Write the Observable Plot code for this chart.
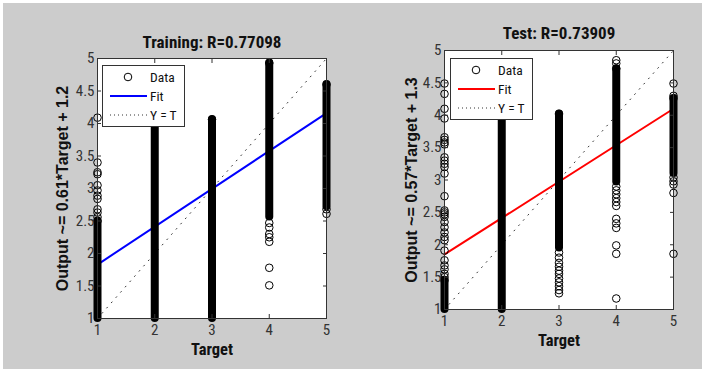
<!DOCTYPE html>
<html><head><meta charset="utf-8">
<script src="https://cdn.jsdelivr.net/npm/d3@7"></script>
<script src="https://cdn.jsdelivr.net/npm/@observablehq/plot@0.6"></script>
<style>
body{margin:0;background:#fff;}
#wrap{position:relative;width:702px;height:374px;overflow:hidden;}
#bg{position:absolute;left:3px;top:3px;width:699px;height:366px;background:#cccccc;}
.panel{position:absolute;top:0;width:351px;height:374px;}
.legend{position:absolute;}
</style></head><body><div id="wrap"><div id="bg"></div></div>
<script>
// ---- shared axes ----
const targets = [1, 2, 3, 4, 5];
const xDomain = [1, 5];
const yDomain = [1, 5];
const xTicks = [1, 2, 3, 4, 5];
const xTickLabels = ["1", "2", "3", "4", "5"];
const yTicks = [1, 1.5, 2, 2.5, 3, 3.5, 4, 4.5, 5];
const yTickLabels = ["1", "1.5", "2", "2.5", "3", "3.5", "4", "4.5", "5"];
const identX = [1, 5];
const identY = [1, 5];
const fitX = [1, 5];
const legendLabels = ["Data", "Fit", "Y = T"];
const xLabel = "Target";

// ---- Training panel ----
const trainTitle = "Training: R=0.77098";
const trainYLabel = "Output ~= 0.61*Target + 1.2";
const trainDenseLow = [1.00, 1.00, 1.00, 2.56, 2.72];
const trainDenseHigh = [2.50, 4.30, 4.06, 4.93, 4.60];
const trainOutT = [1, 1, 1, 1, 1, 1, 1, 1, 1, 1, 1, 4, 4, 4, 4, 4, 4, 4, 5, 5];
const trainOutV = [4.09, 3.40, 3.25, 3.22, 3.05, 2.97, 2.89, 2.84, 2.68, 2.63, 2.56,
                   2.47, 2.40, 2.30, 2.25, 2.18, 1.78, 1.51, 2.68, 2.61];
const trainFitY = [1.83, 4.16];

// ---- Test panel ----
const testTitle = "Test: R=0.73909";
const testYLabel = "Output ~= 0.57*Target + 1.3";
const testDenseLow = [1.00, 1.00, 1.95, 2.97, 3.10];
const testDenseHigh = [1.45, 4.20, 4.02, 4.72, 4.26];
const testOutT = [
  1,1,1,1,1,1,1,1,1,1,1,1,1,1,1,1,1,1,1,1,1,1,1,1,1,1,1,1,1,
  3,3,3,3,3,3,3,3,3,3,3,
  4,4,4,4,4,4,4,4,4,4,4,4,4,4,
  5,5,5,5,5,5,5];
const testOutV = [
  1.50,1.55,1.62,1.68,1.76,1.91,2.07,2.12,2.19,2.27,2.35,2.43,2.47,2.50,2.53,2.75,3.10,3.20,3.25,3.30,3.35,3.55,3.58,3.62,3.66,3.95,4.10,4.33,4.49,
  1.25,1.30,1.36,1.42,1.48,1.55,1.60,1.66,1.72,1.80,1.88,
  4.85,4.80,2.90,2.84,2.78,2.72,2.66,2.60,2.40,2.33,2.26,1.99,1.86,1.17,
  4.49,4.30,3.04,2.98,2.93,2.80,1.86];
const testFitY = [1.85, 4.10];

const NARROW = '"Roboto Condensed","Liberation Sans",Arial,sans-serif';
const WIDE = '"Liberation Sans",Arial,sans-serif';
const R = 3.8;

function panel(cfg) {
  const dense = targets.map((t, i) => ({t, lo: cfg.lo[i], hi: cfg.hi[i]}));
  const pts = cfg.outT.map((t, i) => ({t, v: cfg.outV[i]}));
  const fit = fitX.map((x, i) => ({x, y: cfg.fitY[i]}));
  const ident = identX.map((x, i) => ({x, y: identY[i]}));
  const fmtX = d => xTickLabels[xTicks.indexOf(d)];
  const fmtY = d => yTickLabels[yTicks.indexOf(d)];
  return Plot.plot({
    width: 351, height: 374,
    marginLeft: cfg.m[0], marginRight: cfg.m[1], marginTop: cfg.m[2], marginBottom: cfg.m[3],
    x: {domain: xDomain, axis: null},
    y: {domain: yDomain, axis: null},
    style: {background: "transparent", overflow: "visible", fontFamily: NARROW, color: "#222"},
    marks: [
      Plot.frame({fill: "#fff", stroke: null}),
      Plot.line(ident, {x: "x", y: "y", stroke: "#333", strokeWidth: 1, strokeDasharray: "1,6"}),
      Plot.line(fit, {x: "x", y: "y", stroke: cfg.color, strokeWidth: 2}),
      Plot.ruleX(dense, {x: "t", y1: "lo", y2: "hi", stroke: "#000", strokeWidth: 8, strokeLinecap: "round"}),
      Plot.dot(dense, {x: "t", y: "hi", r: R, stroke: "#000", fill: "none", strokeWidth: 1}),
      Plot.dot(pts, {x: "t", y: "v", r: R, stroke: "#000", fill: "none", strokeWidth: 1}),
      Plot.frame({stroke: "#333"}),
      Plot.axisX(xTicks, {anchor: "bottom", tickSize: -4, fill: "none", label: null, stroke: "#333"}),
      Plot.axisX(xTicks, {anchor: "top", tickSize: -4, fill: "none", label: null, stroke: "#333"}),
      Plot.axisY(yTicks, {anchor: "left", tickSize: -4, fill: "none", label: null, stroke: "#333"}),
      Plot.axisY(yTicks, {anchor: "right", tickSize: -4, fill: "none", label: null, stroke: "#333"}),
      Plot.axisX(xTicks, {anchor: "bottom", tickSize: 0, tickPadding: 6, fontSize: 15, label: null, tickFormat: fmtX, fill: "#333"}),
      Plot.axisY(yTicks, {anchor: "left", tickSize: 0, tickPadding: 3, fontSize: 15, label: null, tickFormat: fmtY, fill: "#333"}),
      Plot.text([cfg.title], {frameAnchor: "top", lineAnchor: "middle", textAnchor: "middle", dy: cfg.titleDy, fontSize: 17, fontWeight: "bold", fill: "#111"}),
      Plot.text([xLabel], {frameAnchor: "bottom", lineAnchor: "middle", textAnchor: "middle", dy: 31, fontSize: 16.5, fontWeight: "bold", fill: "#111"}),
      Plot.text([cfg.ylabel], {frameAnchor: "left", lineAnchor: "middle", textAnchor: "middle", dx: cfg.ylabDx, rotate: -90, fontSize: 16, fontWeight: "bold", fill: "#111", fontFamily: WIDE})
    ]
  });
}

function legend(color) {
  const svg = d3.create("svg").attr("width", 83).attr("height", 62)
    .style("display", "block").style("font-family", NARROW);
  svg.append("rect").attr("x", 0.5).attr("y", 0.5).attr("width", 82).attr("height", 61)
    .attr("fill", "#fff").attr("stroke", "#333");
  const rows = [12, 31, 50];
  svg.append("circle").attr("cx", 26).attr("cy", rows[0]).attr("r", R).attr("fill", "none").attr("stroke", "#000");
  svg.append("line").attr("x1", 8).attr("x2", 45).attr("y1", rows[1]).attr("y2", rows[1]).attr("stroke", color).attr("stroke-width", 2);
  svg.append("line").attr("x1", 8).attr("x2", 45).attr("y1", rows[2]).attr("y2", rows[2]).attr("stroke", "#333").attr("stroke-dasharray", "1,3");
  legendLabels.forEach((s, i) => {
    svg.append("text").attr("x", 48).attr("y", rows[i]).attr("dy", "0.35em")
      .attr("font-size", 13.5).attr("fill", "#111").text(s);
  });
  return svg.node();
}

const wrap = document.getElementById("wrap");
const cfgs = [
  {left: 0, title: trainTitle, ylabel: trainYLabel, lo: trainDenseLow, hi: trainDenseHigh,
   outT: trainOutT, outV: trainOutV, fitY: trainFitY, color: "#0000ff",
   m: [97, 25, 58, 56], titleDy: -16, ylabDx: -35, leg: [102, 65]},
  {left: 351, title: testTitle, ylabel: testYLabel, lo: testDenseLow, hi: testDenseHigh,
   outT: testOutT, outV: testOutV, fitY: testFitY, color: "#ff0000",
   m: [93, 29, 50, 65], titleDy: -17, ylabDx: -33, leg: [99, 58]}
];
cfgs.forEach(cfg => {
  const div = document.createElement("div");
  div.className = "panel";
  div.style.left = cfg.left + "px";
  div.appendChild(panel(cfg));
  const lg = document.createElement("div");
  lg.className = "legend";
  lg.style.left = cfg.leg[0] + "px";
  lg.style.top = cfg.leg[1] + "px";
  lg.appendChild(legend(cfg.color));
  div.appendChild(lg);
  wrap.appendChild(div);
});
</script>
</body></html>
